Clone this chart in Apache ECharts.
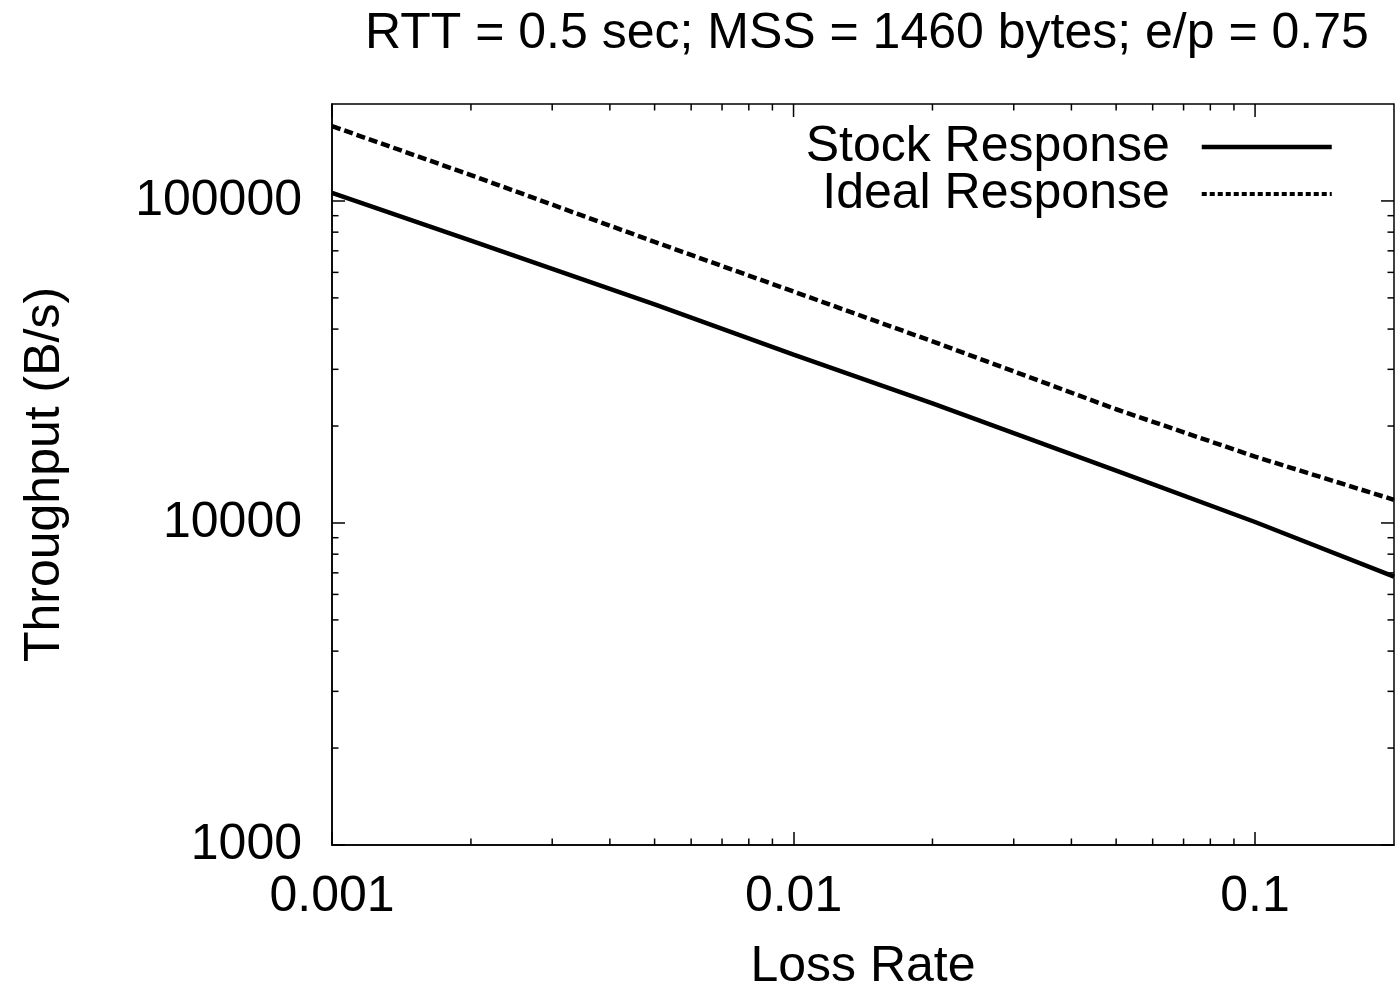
<!DOCTYPE html>
<html>
<head>
<meta charset="utf-8">
<script src="https://cdn.jsdelivr.net/npm/echarts@6/dist/echarts.min.js"></script>
<style>
html,body{margin:0;padding:0;background:#fff;}
#chart{width:1395px;height:997px;}
</style>
</head>
<body>
<div id="chart"></div>
<script>
// ---- data ----
const lossRate = [0.001, 0.002, 0.005, 0.01, 0.02, 0.05, 0.1, 0.2];
const stockResponse = [105900, 75300, 47700, 33300, 23500, 14540, 10070, 6810];
const idealResponse = [170700, 120300, 74600, 52300, 36650, 22550, 16070, 11800];
const seriesNames = ['Stock Response', 'Ideal Response'];
const xTickValues = [0.001, 0.01, 0.1];
const xTickLabels = ['0.001', '0.01', '0.1'];
const yTickValues = [1000, 10000, 100000];
const yTickLabels = ['1000', '10000', '100000'];
const xMinorTicks = [0.002,0.003,0.004,0.005,0.006,0.007,0.008,0.009,
                     0.02,0.03,0.04,0.05,0.06,0.07,0.08,0.09];
const yMinorTicks = [2000,3000,4000,5000,6000,7000,8000,9000,
                     20000,30000,40000,50000,60000,70000,80000,90000];
const xMin = 0.001, xMax = 0.2, yMin = 1000, yMax = 200000;
const titleText = 'RTT = 0.5 sec; MSS = 1460 bytes; e/p = 0.75';
const xName = 'Loss Rate', yName = 'Throughput (B/s)';

const FONT = "'Liberation Sans', Arial, Helvetica, sans-serif";
const FS = 50;

function labelFor(vals, labels) {
  return function (v) {
    for (let i = 0; i < vals.length; i++) {
      if (Math.abs(Math.log10(v) - Math.log10(vals[i])) < 1e-6) return labels[i];
    }
    return '';
  };
}

const xTickData = xTickValues.map(v => [v, yMin, 1]).concat(xMinorTicks.map(v => [v, yMin, 0]));
const yTickData = yTickValues.map(v => [xMin, v, 1]).concat(yMinorTicks.map(v => [xMin, v, 0]));

function tickRenderer(isX) {
  return function (params, api) {
    const cs = params.coordSys;
    const major = api.value(2) === 1;
    const len = major ? 13 : 6.5;
    const p = api.coord([api.value(0), api.value(1)]);
    const style = { stroke: '#000', lineWidth: 1.5 };
    if (isX) {
      const x = p[0];
      const b = cs.y + cs.height, t = cs.y;
      const children = [
        { type: 'line', shape: { x1: x, y1: t, x2: x, y2: t + len }, style: style }
      ];
      if (!major) children.push({ type: 'line', shape: { x1: x, y1: b, x2: x, y2: b - len }, style: style });
      return { type: 'group', children: children };
    } else {
      const y = p[1];
      const l = cs.x, r = cs.x + cs.width;
      const children = [
        { type: 'line', shape: { x1: r, y1: y, x2: r - len, y2: y }, style: style }
      ];
      if (!major) children.push({ type: 'line', shape: { x1: l, y1: y, x2: l + len, y2: y }, style: style });
      return { type: 'group', children: children };
    }
  };
}

const chart = echarts.init(document.getElementById('chart'), null, { renderer: 'canvas' });
chart.setOption({
  animation: false,
  backgroundColor: '#fff',
  textStyle: { fontFamily: FONT },
  title: {
    text: titleText,
    left: 360,
    top: 4,
    textStyle: { fontFamily: FONT, fontSize: FS, fontWeight: 'normal', color: '#000' }
  },
  grid: {
    left: 332, right: 1, top: 104, bottom: 147,
    show: true, borderColor: '#000', borderWidth: 1.5, backgroundColor: 'transparent'
  },
  legend: {
    data: [
      { name: seriesNames[0], lineStyle: { color: '#000', width: 4.5, type: 'solid' } },
      { name: seriesNames[1], lineStyle: { color: '#000', width: 4, type: [5, 3] } }
    ],
    orient: 'vertical',
    align: 'right',
    right: 56,
    top: 117,
    itemWidth: 130,
    itemHeight: 24,
    itemGap: -3,
    itemStyle: { opacity: 0 },
    textStyle: { fontFamily: FONT, fontSize: FS, color: '#000', padding: [0, 27, 0, 0] }
  },
  xAxis: {
    type: 'log',
    logBase: 10,
    min: xMin,
    max: xMax,
    name: xName,
    nameLocation: 'middle',
    nameGap: 97,
    nameTextStyle: { fontFamily: FONT, fontSize: FS, color: '#000' },
    axisLine: { show: true, lineStyle: { color: '#000', width: 1.5 } },
    axisTick: { show: true, inside: true, length: 13, lineStyle: { color: '#000', width: 1.5 } },
    axisLabel: {
      fontFamily: FONT, fontSize: FS, color: '#000', margin: 27,
      showMaxLabel: false,
      formatter: labelFor(xTickValues, xTickLabels)
    },
    splitLine: { show: false },
    minorTick: { show: false }
  },
  yAxis: {
    type: 'log',
    logBase: 10,
    min: yMin,
    max: yMax,
    name: yName,
    nameLocation: 'middle',
    nameGap: 262,
    nameRotate: 90,
    nameTextStyle: { fontFamily: FONT, fontSize: FS, color: '#000' },
    axisLine: { show: true, lineStyle: { color: '#000', width: 1.5 } },
    axisTick: { show: true, inside: true, length: 13, lineStyle: { color: '#000', width: 1.5 } },
    axisLabel: {
      fontFamily: FONT, fontSize: FS, color: '#000', margin: 30,
      showMaxLabel: false,
      formatter: labelFor(yTickValues, yTickLabels)
    },
    splitLine: { show: false },
    minorTick: { show: false }
  },
  series: [
    {
      name: seriesNames[0],
      type: 'line',
      symbol: 'none',
      data: lossRate.map((x, i) => [x, stockResponse[i]]),
      lineStyle: { color: '#000', width: 4.5, type: 'solid' },
      itemStyle: { color: '#000' },
      z: 5
    },
    {
      name: seriesNames[1],
      type: 'line',
      symbol: 'none',
      data: lossRate.map((x, i) => [x, idealResponse[i]]),
      lineStyle: { color: '#000', width: 4.5, type: [9, 4], cap: 'butt' },
      itemStyle: { color: '#000' },
      z: 5
    },
    {
      type: 'custom',
      name: 'xticks',
      silent: true,
      clip: false,
      data: xTickData,
      encode: { x: 0, y: 1 },
      renderItem: tickRenderer(true),
      z: 10
    },
    {
      type: 'custom',
      name: 'yticks',
      silent: true,
      clip: false,
      data: yTickData,
      encode: { x: 0, y: 1 },
      renderItem: tickRenderer(false),
      z: 10
    }
  ]
});
</script>
</body>
</html>
